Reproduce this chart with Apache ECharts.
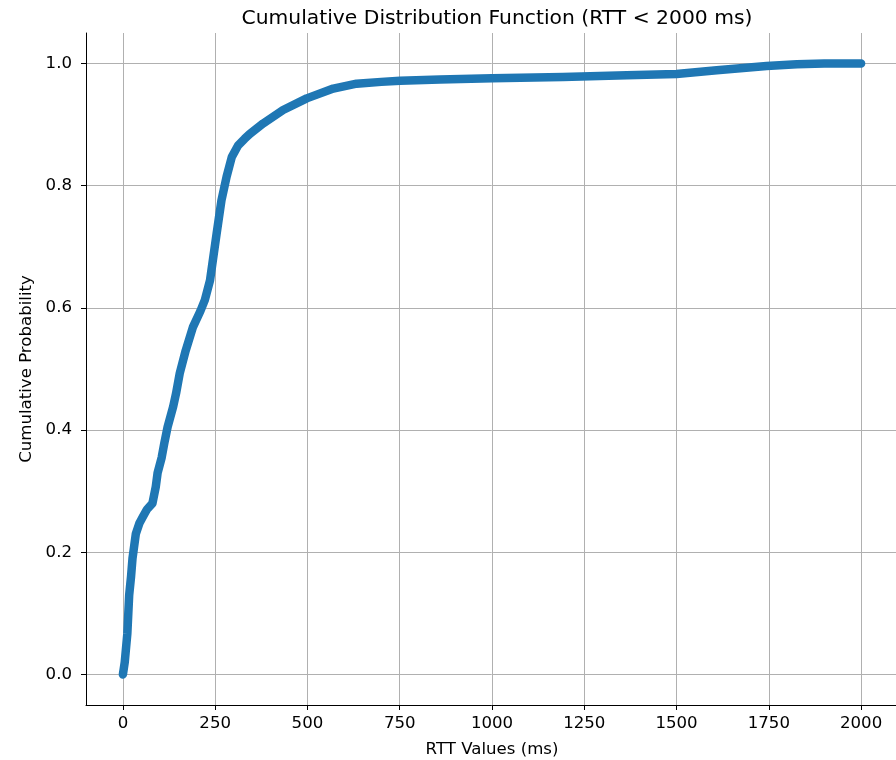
<!DOCTYPE html>
<html>
<head>
<meta charset="utf-8">
<script src="https://cdn.jsdelivr.net/npm/echarts@6/dist/echarts.min.js"></script>
<style>
	html, body { margin: 0; padding: 0; background: #fff; }
	#chart { width: 896px; height: 760px; }
</style>
</head>
<body>
<div id="chart"></div>
<script>
// RTT 数值（毫秒）
var rttValues = [0, 5, 12, 17, 22, 26, 35, 45, 53, 65, 80, 89, 94, 105, 112, 121, 136, 144, 154, 170, 190, 210, 222, 236, 254, 267, 281, 295, 312, 330, 344, 380, 434, 498, 570, 633, 700, 751, 859, 1000, 1192, 1365, 1500, 1609, 1744, 1826, 1900, 2000]
// 累计概率
var cdfValues = [0, 0.02, 0.067, 0.13, 0.16, 0.19, 0.23, 0.248, 0.257, 0.27, 0.28, 0.307, 0.33, 0.355, 0.378, 0.405, 0.438, 0.46, 0.493, 0.53, 0.569, 0.595, 0.613, 0.645, 0.722, 0.776, 0.815, 0.847, 0.866, 0.877, 0.885, 0.902, 0.924, 0.943, 0.959, 0.967, 0.970, 0.972, 0.974, 0.976, 0.978, 0.981, 0.983, 0.989, 0.996, 0.999, 1.0, 1.0]
// 刻度
var xTicks = [0, 250, 500, 750, 1000, 1250, 1500, 1750, 2000]
var yTicks = [0, 0.2, 0.4, 0.6, 0.8, 1.0]

var font = 'DejaVu Sans'
var points = rttValues.map(function (v, i) {
	return [v, cdfValues[i]]
})

var myChart = echarts.init(document.getElementById('chart'))
myChart.setOption({
	animation: false,
	title: {
		text: 'Cumulative Distribution Function (RTT < 2000 ms)',
		left: 492,
		top: 4,
		textAlign: 'center',
		textStyle: { fontFamily: font, fontSize: 20.3, fontWeight: 'normal', color: '#000' }
	},
	grid: { left: 86, top: 33, width: 812, height: 672, outerBoundsMode: 'none' },
	xAxis: {
		type: 'value',
		min: -100,
		max: 2100,
		name: 'RTT Values (ms)',
		nameLocation: 'middle',
		nameGap: 36,
		nameTextStyle: { fontFamily: font, fontSize: 16.6, color: '#000' },
		axisLine: { onZero: false, lineStyle: { color: '#000', width: 1 } },
		axisTick: { show: true, length: 5, customValues: xTicks, lineStyle: { color: '#000' } },
		axisLabel: {
			customValues: xTicks, margin: 10, fontFamily: font, fontSize: 16.6, color: '#000',
			formatter: function (v) { return String(v) }
		},
		splitLine: { show: true, lineStyle: { color: '#b0b0b0', width: 1 } }
	},
	yAxis: {
		type: 'value',
		min: -0.05,
		max: 1.05,
		name: 'Cumulative Probability',
		nameLocation: 'middle',
		nameGap: 46,
		nameTextStyle: { fontFamily: font, fontSize: 16.6, color: '#000' },
		axisLine: { show: true, onZero: false, lineStyle: { color: '#000', width: 1 } },
		axisTick: { show: true, length: 5, customValues: yTicks, lineStyle: { color: '#000' } },
		axisLabel: {
			customValues: yTicks, margin: 14, fontFamily: font, fontSize: 16.6, color: '#000',
			formatter: function (v) { return v.toFixed(1) }
		},
		splitLine: { show: true, lineStyle: { color: '#b0b0b0', width: 1 } }
	},
	series: [
		{
			type: 'line',
			data: points,
			showSymbol: false,
			lineStyle: { color: '#1f77b4', width: 8.5, cap: 'round', join: 'round' },
			itemStyle: { color: '#1f77b4' }
		}
	]
})
</script>
</body>
</html>
